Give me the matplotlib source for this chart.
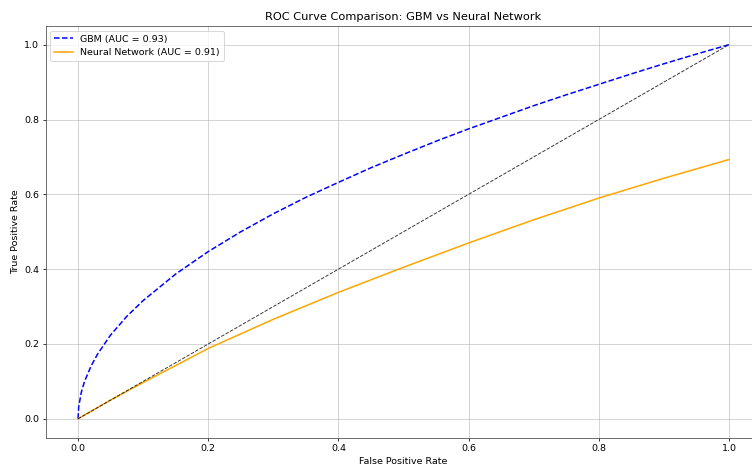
import matplotlib
matplotlib.use("Agg")
import matplotlib.pyplot as plt

# values
gbm_fpr = [0.0, 0.001, 0.005, 0.01, 0.02, 0.03, 0.05, 0.075, 0.1, 0.15, 0.2, 0.25, 0.3,
           0.35, 0.4, 0.45, 0.5, 0.55, 0.6, 0.65, 0.7, 0.75, 0.8, 0.85, 0.9, 0.95, 1.0]
gbm_tpr = [0.0, 0.032, 0.071, 0.1, 0.141, 0.173, 0.224, 0.274, 0.316, 0.387, 0.447, 0.5, 0.548,
           0.592, 0.632, 0.671, 0.707, 0.742, 0.775, 0.806, 0.837, 0.866, 0.894, 0.922, 0.949,
           0.975, 1.0]

nn_fpr = [0.0, 0.05, 0.1, 0.2, 0.3, 0.4, 0.5, 0.6, 0.7, 0.8, 0.9, 1.0]
nn_tpr = [0.0, 0.05, 0.097, 0.188, 0.266, 0.338, 0.405, 0.47, 0.532, 0.59, 0.643, 0.693]

gbm_auc = 0.93
nn_auc = 0.91

fig = plt.figure(figsize=(752 / 68, 473 / 68), dpi=68)
ax = fig.add_axes([45.5 / 752, 35.5 / 473, 716 / 752, 411.5 / 473])

ax.plot(gbm_fpr, gbm_tpr, 'b--', lw=1.6, label=f"GBM (AUC = {gbm_auc:.2f})")
ax.plot(nn_fpr, nn_tpr, color='orange', lw=1.6, label=f"Neural Network (AUC = {nn_auc:.2f})")
ax.plot([0, 1], [0, 1], 'k--', lw=1, alpha=0.8)

ax.set_xlabel("False Positive Rate")
ax.set_ylabel("True Positive Rate")
ax.set_title("ROC Curve Comparison: GBM vs Neural Network")
ax.legend(loc='upper left')
ax.grid(True, alpha=0.7)
for s in ax.spines.values():
    s.set_color('#444444')

fig.savefig("out.png", dpi=68)
